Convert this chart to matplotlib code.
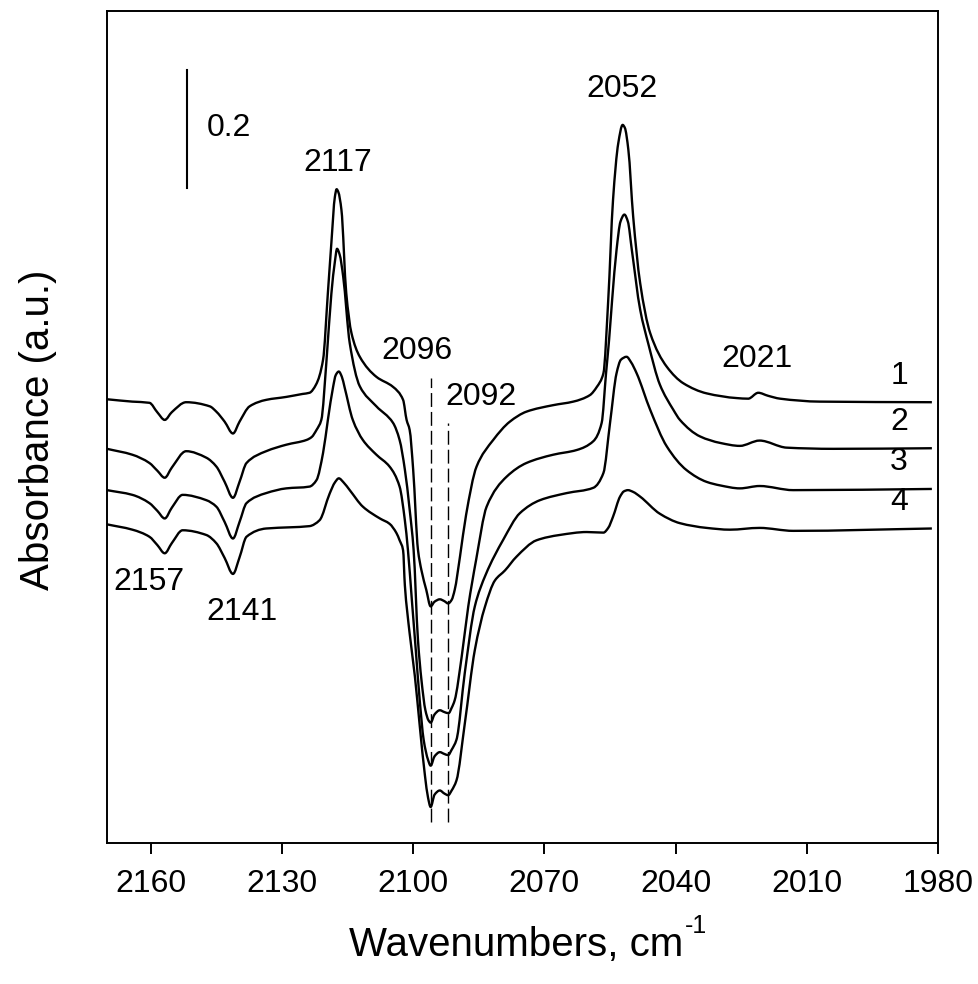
import matplotlib
matplotlib.use('Agg')
import matplotlib.pyplot as plt
import numpy as np
from matplotlib.path import Path
from matplotlib.patches import PathPatch

plt.rcParams['font.family'] = ['Liberation Sans', 'DejaVu Sans']

# spectra: wavenumber (cm-1) and absorbance relative to each baseline
wn1 = [2170, 2164.2, 2160.3, 2158.5, 2156.8, 2155.2, 2151.9, 2146.5, 2145, 2143.1, 2141.2, 2139.7,
       2137.4, 2133.6, 2129, 2125.3, 2123.7, 2122.2, 2120.6, 2119.5, 2118.7, 2117.9, 2117.5, 2117.1,
       2116.4, 2115.3, 2114.1, 2112.2, 2108.4, 2104.6, 2102.3, 2101.5, 2100.8, 2100, 2098.9, 2098.1,
       2097, 2096, 2095.1, 2093.9, 2092.9, 2092, 2091.2, 2090.5, 2089.3, 2087.9, 2085.5, 2081.7,
       2077.9, 2074.1, 2068, 2063.4, 2059.6, 2058, 2056.5, 2055.4, 2054.3, 2053.1, 2052.1, 2051.6,
       2050.8, 2049.7, 2048.1, 2045.8, 2042, 2038.2, 2032.9, 2026, 2023.4, 2021.1, 2018.9, 2016.1,
       2007, 1981.4]
a1 = [0.005, 0.001, -0.001, -0.017, -0.030, -0.017, 0.000, -0.007, -0.016, -0.033, -0.053, -0.033,
      -0.007, 0.004, 0.009, 0.014, 0.016, 0.030, 0.072, 0.185, 0.270, 0.348, 0.361, 0.356,
      0.326, 0.185, 0.117, 0.077, 0.043, 0.026, 0.004, -0.030, -0.047, -0.114, -0.250, -0.285,
      -0.318, -0.346, -0.338, -0.334, -0.337, -0.341, -0.335, -0.318, -0.262, -0.191, -0.109, -0.064,
      -0.033, -0.016, -0.005, 0.001, 0.012, 0.026, 0.049, 0.173, 0.343, 0.439, 0.470, 0.465,
      0.428, 0.315, 0.202, 0.117, 0.060, 0.032, 0.015, 0.007, 0.006, 0.016, 0.011, 0.006,
      0.001, 0.000]

wn2 = [2170, 2164.2, 2160.3, 2158.5, 2156.8, 2155.2, 2151.9, 2147.3, 2145, 2143.1, 2141.2, 2139.7,
       2138.1, 2133.6, 2129, 2124.4, 2123.2, 2122.1, 2121, 2119.8, 2118.7, 2117.9, 2117.4, 2116.8,
       2116, 2114.5, 2112.2, 2108.4, 2104.6, 2103.1, 2101.9, 2100.8, 2099.9, 2098.9, 2098.1, 2097.2,
       2096.5, 2096, 2095.1, 2093.9, 2092.9, 2091.9, 2091.2, 2090.5, 2088.9, 2087.4, 2085.6, 2083.2,
       2078.6, 2074.1, 2068, 2062.6, 2058.8, 2056.9, 2055.9, 2055.2, 2054.5, 2053.5, 2052.6, 2051.7,
       2050.9, 2050, 2048.1, 2046.2, 2043.6, 2040.5, 2039, 2034.4, 2029.8, 2025.3, 2020.8, 2014.6,
       2004, 1981.4]
a2 = [-0.001, -0.011, -0.025, -0.038, -0.050, -0.033, -0.005, -0.016, -0.031, -0.057, -0.084, -0.057,
      -0.025, -0.005, 0.006, 0.014, 0.019, 0.031, 0.048, 0.150, 0.262, 0.316, 0.338, 0.328,
      0.291, 0.178, 0.105, 0.071, 0.043, 0.014, -0.036, -0.104, -0.172, -0.325, -0.393, -0.444,
      -0.461, -0.465, -0.451, -0.444, -0.447, -0.449, -0.440, -0.427, -0.353, -0.268, -0.189, -0.099,
      -0.048, -0.025, -0.011, -0.003, 0.012, 0.043, 0.127, 0.184, 0.252, 0.336, 0.384, 0.396,
      0.384, 0.336, 0.235, 0.176, 0.108, 0.065, 0.048, 0.020, 0.009, 0.004, 0.013, 0.001,
      -0.001, 0.000]

wn3 = [2170, 2164.2, 2160.3, 2158.5, 2156.8, 2155.2, 2152.7, 2147.3, 2145, 2143.1, 2141.2, 2139.7,
       2138.1, 2133.6, 2129, 2123.7, 2122.1, 2120.6, 2119.5, 2118.3, 2117.7, 2117, 2116.3, 2115.7,
       2113.8, 2111.5, 2108.4, 2105.4, 2103.1, 2101.9, 2101.2, 2100.3, 2099.4, 2098.5, 2097.6, 2096.6,
       2096, 2095.1, 2093.9, 2092.9, 2092, 2091.2, 2090.1, 2088.2, 2085.9, 2083.4, 2079.4, 2075.6,
       2071, 2064.9, 2058.8, 2056.5, 2055, 2053.5, 2052.5, 2051.2, 2050.2, 2048.9, 2045.8, 2042,
       2037.5, 2032.9, 2029.8, 2025.3, 2020.8, 2013.1, 1981.4]
a3 = [-0.002, -0.010, -0.024, -0.037, -0.050, -0.032, -0.010, -0.019, -0.030, -0.056, -0.084, -0.056,
      -0.024, -0.007, 0.001, 0.004, 0.015, 0.061, 0.117, 0.173, 0.193, 0.199, 0.190, 0.173,
      0.117, 0.083, 0.058, 0.038, 0.004, -0.053, -0.103, -0.188, -0.273, -0.358, -0.425, -0.459,
      -0.469, -0.453, -0.446, -0.449, -0.451, -0.442, -0.425, -0.312, -0.199, -0.145, -0.086, -0.041,
      -0.019, -0.007, 0.002, 0.027, 0.111, 0.196, 0.219, 0.224, 0.215, 0.196, 0.134, 0.072,
      0.032, 0.012, 0.006, 0.001, 0.005, -0.002, 0.000]

wn4 = [2170, 2164.2, 2160.3, 2158.5, 2156.8, 2155.2, 2152.7, 2147.3, 2145, 2143.1, 2141.2, 2139.7,
       2138.1, 2133.6, 2128.2, 2123.7, 2121.4, 2119.1, 2117.9, 2117, 2115.9, 2114.5, 2111.5, 2107.6,
       2105.4, 2103.8, 2103.1, 2102.3, 2101.9, 2100.8, 2099.6, 2098.5, 2097.3, 2096.6, 2096, 2095.1,
       2093.9, 2092.9, 2092, 2091.2, 2090.1, 2088.2, 2085.9, 2083.6, 2081.3, 2079, 2076.4, 2071.8,
       2066.5, 2060.3, 2056.5, 2055.4, 2054.3, 2052.7, 2051.8, 2050.9, 2049.7, 2048.1, 2043.6, 2039,
       2032.9, 2027.6, 2020.8, 2013.1, 1981.4]
a4 = [0.007, -0.002, -0.014, -0.028, -0.042, -0.025, -0.003, -0.011, -0.025, -0.050, -0.077, -0.049,
      -0.014, 0.000, 0.002, 0.004, 0.014, 0.059, 0.078, 0.085, 0.078, 0.065, 0.037, 0.017,
      0.008, -0.008, -0.020, -0.037, -0.096, -0.178, -0.251, -0.334, -0.419, -0.456, -0.472, -0.451,
      -0.444, -0.449, -0.452, -0.444, -0.427, -0.331, -0.206, -0.133, -0.088, -0.071, -0.048, -0.020,
      -0.011, -0.006, -0.007, 0.001, 0.020, 0.054, 0.063, 0.065, 0.062, 0.054, 0.025, 0.009,
      0.001, -0.002, 0.001, -0.004, 0.000]

spectra = [(wn1, a1), (wn2, a2), (wn3, a3), (wn4, a4)]
offsets = [0.747, 0.669, 0.600, 0.533]
curve_labels = ['1', '2', '3', '4']

# band labels: text, wavenumber, absorbance
band_text = ['2117', '2052', '2096', '2021', '2157', '2141']
band_wn = [2117.2, 2052.2, 2099.2, 2021.4, 2160.4, 2139.1]
band_y = [1.153, 1.278, 0.834, 0.820, 0.442, 0.392]

dash_wn = [2096, 2092]
dash_top = [0.788, 0.712]
dash_bottom = 0.036

xticks = [2160, 2130, 2100, 2070, 2040, 2010, 1980]


def smooth_path(x, y):
    # monotone cubic (bezier) through the read points, no overshoot
    x = np.asarray(x, float)
    y = np.asarray(y, float)
    h = np.diff(x)
    d = np.diff(y) / h
    m = np.zeros_like(y)
    for k in range(1, len(x) - 1):
        if d[k - 1] * d[k] > 0:
            w1 = 2 * h[k] + h[k - 1]
            w2 = h[k] + 2 * h[k - 1]
            m[k] = (w1 + w2) / (w1 / d[k - 1] + w2 / d[k])
    m[0] = d[0]
    m[-1] = d[-1]
    verts = [(x[0], y[0])]
    codes = [Path.MOVETO]
    for k in range(len(h)):
        verts += [(x[k] + h[k] / 3, y[k] + m[k] * h[k] / 3),
                  (x[k + 1] - h[k] / 3, y[k + 1] - m[k + 1] * h[k] / 3),
                  (x[k + 1], y[k + 1])]
        codes += [Path.CURVE4] * 3
    return Path(verts, codes)


fig = plt.figure(figsize=(9.79, 9.84), dpi=100)
ax = fig.add_axes([107 / 979, 1 - 843 / 984, 831 / 979, 832 / 984])

for (x, y), off in zip(spectra, offsets):
    p = smooth_path(x, [v + off for v in y])
    ax.add_patch(PathPatch(p, fill=False, edgecolor='black', lw=1.7, joinstyle='round'))

for lab, off in zip(curve_labels, offsets):
    ax.text(1988.9, off + 0.045, lab, fontsize=23, ha='center', va='center')

for t, x, y in zip(band_text, band_wn, band_y):
    ax.text(x, y, t, fontsize=23, ha='center', va='center')
ax.text(2092.7, 0.755, '2092', fontsize=23, ha='left', va='center')

for x, top in zip(dash_wn, dash_top):
    ax.plot([x, x], [dash_bottom, top], color='black', lw=1.0, dashes=(10, 3.6))

# 0.2 scale bar
ax.plot([2151.6, 2151.6], [1.110, 1.310], color='black', lw=1.5)
ax.text(2147.2, 1.212, '0.2', fontsize=23, ha='left', va='center')

ax.set_xlim(2170, 1980)
ax.set_ylim(0, 1.41)
ax.set_xticks(xticks)
ax.set_yticks([])
ax.tick_params(axis='x', direction='out', length=8, width=1.4, labelsize=23, pad=11)
for s in ax.spines.values():
    s.set_linewidth(1.4)

fig.text(38 / 979, 1 - 430 / 984, 'Absorbance (a.u.)', fontsize=29, rotation=90,
         ha='center', va='center')
fig.text(683 / 979, 1 - 945 / 984, 'Wavenumbers, cm', fontsize=29, ha='right', va='center')
fig.text(685 / 979, 1 - 926 / 984, '-1', fontsize=18, ha='left', va='center')

fig.savefig('out.png', dpi=100)
